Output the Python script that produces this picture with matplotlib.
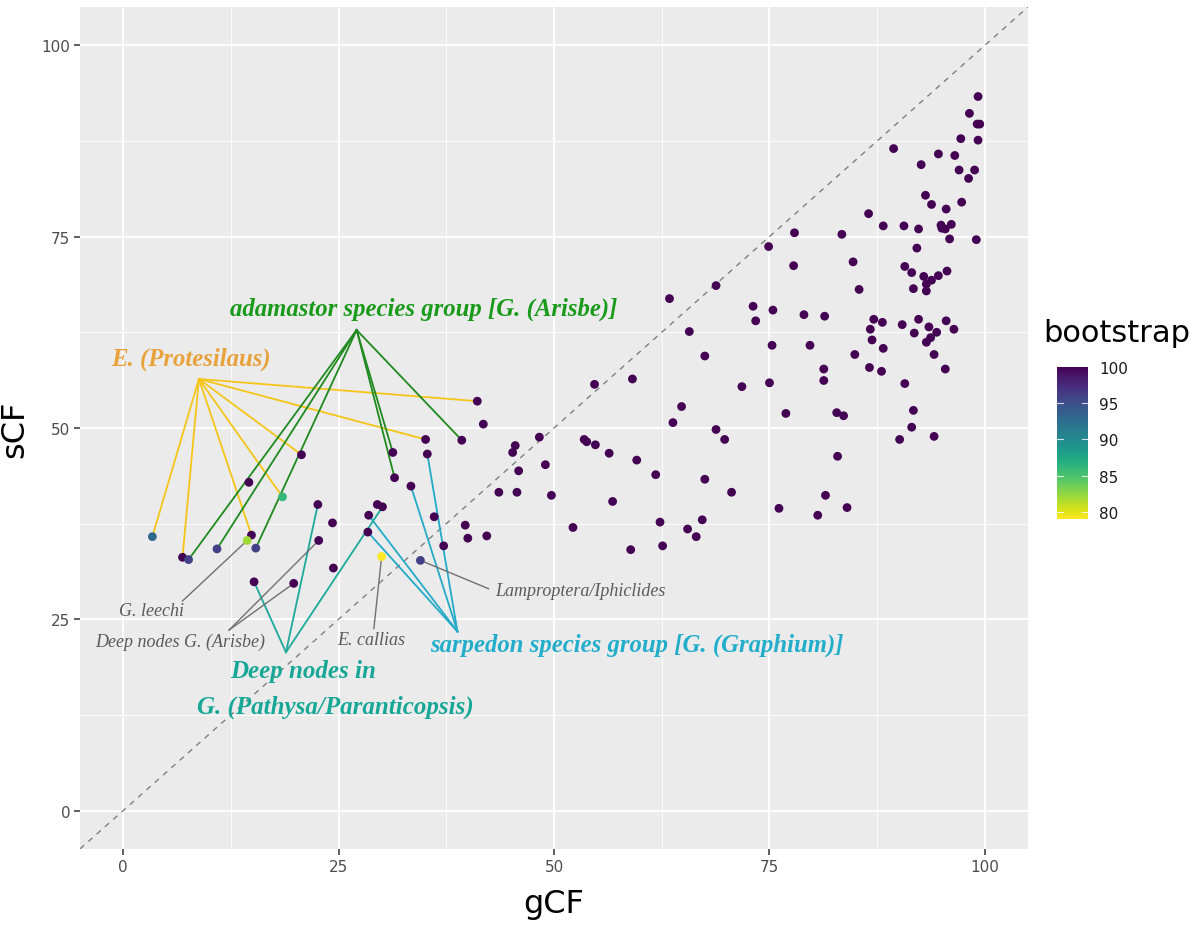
import numpy as np
import matplotlib
matplotlib.use("Agg")
import matplotlib.pyplot as plt
import matplotlib.transforms as mtransforms

# gCF / sCF / bootstrap per node
gcf = [3.4, 6.9, 7.6, 10.9, 14.6, 14.9, 14.4, 15.4, 18.5, 20.7, 22.6, 24.3, 22.7, 24.4,
       15.2, 19.8, 29.5, 30.1, 28.5, 28.4, 30.0, 31.3, 31.5, 33.4, 35.1, 35.3, 39.3, 41.1,
       41.8, 36.1, 37.2, 39.7, 40.0, 42.2, 34.5,
       63.4, 65.7, 59.1, 54.7, 64.8, 63.8, 48.3, 45.5, 45.2, 49.0, 45.9, 43.6, 45.7, 49.7,
       53.5, 53.8, 54.8, 56.4, 59.6, 61.8, 56.8, 52.2, 62.3, 65.5, 66.5, 58.9, 62.6,
       99.2, 98.2, 99.1, 99.4, 97.2, 99.2, 89.4, 94.6, 96.5, 92.6, 97.0, 98.8, 98.1, 93.1,
       97.3, 93.8, 95.5, 86.5, 88.2, 90.6, 92.3, 94.9, 95.0, 95.4, 96.1, 95.9, 99.0, 77.9,
       83.4, 74.9, 92.1, 77.8, 84.7, 90.7, 91.5, 92.9, 93.8, 94.6, 95.6, 93.2, 91.7, 93.2,
       85.4, 68.8, 73.1, 75.4, 73.4, 79.0, 81.4, 87.1, 88.1, 92.3, 95.5, 86.7, 90.4, 93.5,
       96.4, 91.8, 94.4, 93.7, 93.2, 86.9, 88.2, 75.3, 79.7, 84.9, 94.1, 67.5, 81.3, 81.3,
       86.6, 88.0, 95.4, 71.8, 75.0, 90.7, 76.9, 82.8, 83.6, 91.7, 91.5, 90.1, 94.1, 68.8,
       69.8, 82.9, 67.5, 70.6, 81.5, 76.1, 80.6, 84.0, 67.2]
scf = [35.8, 33.1, 32.8, 34.2, 42.9, 36.0, 35.3, 34.3, 41.0, 46.5, 40.0, 37.6, 35.3, 31.7,
       29.9, 29.7, 40.0, 39.7, 38.6, 36.4, 33.2, 46.8, 43.5, 42.4, 48.5, 46.6, 48.4, 53.5,
       50.5, 38.4, 34.6, 37.3, 35.6, 35.9, 32.7,
       66.9, 62.6, 56.4, 55.7, 52.8, 50.7, 48.8, 47.7, 46.8, 45.2, 44.4, 41.6, 41.6, 41.2,
       48.5, 48.2, 47.8, 46.7, 45.8, 43.9, 40.4, 37.0, 37.7, 36.8, 35.8, 34.1, 34.6,
       93.3, 91.1, 89.7, 89.7, 87.8, 87.6, 86.5, 85.8, 85.6, 84.4, 83.7, 83.7, 82.6, 80.4,
       79.5, 79.2, 78.6, 78.0, 76.4, 76.4, 76.0, 76.5, 76.1, 76.0, 76.6, 74.7, 74.6, 75.5,
       75.3, 73.7, 73.5, 71.2, 71.7, 71.1, 70.3, 69.8, 69.3, 69.9, 70.5, 68.8, 68.2, 67.9,
       68.1, 68.6, 65.9, 65.4, 64.0, 64.8, 64.6, 64.2, 63.8, 64.2, 64.0, 62.9, 63.5, 63.2,
       62.9, 62.4, 62.5, 61.8, 61.2, 61.5, 60.4, 60.8, 60.8, 59.6, 59.6, 59.4, 57.7, 56.2,
       57.9, 57.4, 57.7, 55.4, 55.9, 55.8, 51.9, 52.0, 51.6, 52.3, 50.1, 48.5, 48.9, 49.8,
       48.5, 46.3, 43.3, 41.6, 41.2, 39.5, 38.6, 39.6, 38.0]
boot = [93, 100, 96, 96, 100, 100, 82, 96, 86, 100, 100, 100, 100, 100,
        100, 100, 100, 100, 100, 100, 79, 100, 100, 100, 100, 100, 100, 100,
        100, 100, 100, 100, 100, 100, 96]
boot = boot + [100] * (len(gcf) - len(boot))

# clade labels: text, label position, hub of the connector lines, target nodes
group_names = ["E. (Protesilaus)", "adamastor species group [G. (Arisbe)]",
               "sarpedon species group [G. (Graphium)]"]
group_label_xy = [(7.9, 59.1), (34.9, 65.6), (59.6, 21.8)]
group_hub = [(8.8, 56.4), (27.1, 62.8), (38.8, 23.4)]
group_targets = [
    [(3.4, 35.8), (6.9, 33.1), (14.9, 36.0), (18.5, 41.0), (20.7, 46.5), (35.1, 48.5), (41.1, 53.5)],
    [(7.6, 32.8), (10.9, 34.2), (15.4, 34.3), (31.3, 46.8), (31.5, 43.5), (39.3, 48.4)],
    [(28.5, 38.6), (28.4, 36.4), (33.4, 42.4), (35.3, 46.6)],
]
group_text_col = ["#E9A23B", "#1A9A1A", "#22AECB"]
group_line_col = ["#F5C518", "#1F8A1F", "#22AAC6"]

pathysa_hub = (18.9, 20.7)
pathysa_targets = [(15.2, 29.9), (22.6, 40.0), (30.1, 39.7)]

# grey single-node notes: text, text position, line start, target nodes
note_names = ["G. leechi", "Deep nodes G. (Arisbe)", "E. callias", "Lamproptera/Iphiclides"]
note_xy = [(3.3, 26.2), (6.6, 22.1), (28.8, 22.3), (43.2, 28.8)]
note_start = [(6.9, 27.4), (12.3, 23.6), (29.1, 23.8), (42.4, 29.0)]
note_targets = [[(14.4, 35.3)], [(22.7, 35.3), (19.8, 29.7)], [(30.0, 33.2)], [(34.5, 32.7)]]

fig = plt.figure(figsize=(11.9, 9.28), dpi=100)
ax = fig.add_axes([0.0672, 0.0841, 0.7967, 0.9073])
ax.set_facecolor("#EBEBEB")
for s in ax.spines.values():
    s.set_visible(False)

ax.set_xlim(-5, 105)
ax.set_ylim(-5, 105)
ticks = [0, 25, 50, 75, 100]
ax.set_xticks(ticks)
ax.set_yticks(ticks)
ax.set_xticks([12.5, 37.5, 62.5, 87.5], minor=True)
ax.set_yticks([12.5, 37.5, 62.5, 87.5], minor=True)
ax.grid(which="major", color="white", lw=1.3)
ax.grid(which="minor", color="white", lw=0.6)
ax.set_axisbelow(True)
ax.tick_params(which="major", length=4, width=1.1, color="#333333",
               labelsize=11, labelcolor="#4D4D4D", pad=3)
ax.tick_params(which="minor", length=0)
ax.set_xlabel("gCF", fontsize=23, labelpad=10)
ax.set_ylabel("sCF", fontsize=23, labelpad=8)

ax.axline((0, 0), (1, 1), color="#7F7F7F", lw=1, ls=(0, (4, 4)), zorder=1)

serif = "Liberation Serif"

# connector lines
for hub, targets, lc in zip(group_hub, group_targets, group_line_col):
    for tx, ty in targets:
        ax.plot([hub[0], tx], [hub[1], ty], color=lc, lw=1.3, zorder=2)
for tx, ty in pathysa_targets:
    ax.plot([pathysa_hub[0], tx], [pathysa_hub[1], ty], color="#1DA99B", lw=1.3, zorder=2)
for st, targets in zip(note_start, note_targets):
    for tx, ty in targets:
        ax.plot([st[0], tx], [st[1], ty], color="#707070", lw=1.0, zorder=2)

sc = ax.scatter(gcf, scf, c=boot, cmap="viridis_r", vmin=79, vmax=100,
                s=40, linewidths=0, zorder=3)

# labels
for name, (lx, ly), tc in zip(group_names, group_label_xy, group_text_col):
    ax.text(lx, ly, name, color=tc, fontsize=17.8, family=serif, style="italic",
            weight="bold", ha="center", va="center", zorder=4)
ax.text(20.9, 18.3, "Deep nodes in", color="#17A797", fontsize=18, family=serif,
        style="italic", weight="bold", ha="center", va="center", zorder=4)
ax.text(24.6, 13.6, "G. (Pathysa/Paranticopsis)", color="#17A797", fontsize=18,
        family=serif, style="italic", weight="bold", ha="center", va="center", zorder=4)
for name, (nx, ny) in zip(note_names, note_xy):
    ha = "left" if name.startswith("Lamp") else "center"
    ax.text(nx, ny, name, color="#5A5A5A", fontsize=13, family=serif,
            style="italic", ha=ha, va="center", zorder=4)

# colour bar legend
cax = fig.add_axes([0.8882, 0.4397, 0.0261, 0.1638])
cb = fig.colorbar(sc, cax=cax, ticks=[80, 85, 90, 95, 100])
cb.outline.set_visible(False)
cax.tick_params(length=0, labelsize=11, labelcolor="#1A1A1A", pad=8)
trans = mtransforms.blended_transform_factory(cax.transAxes, cax.transData)
for t in [80, 85, 90, 95]:
    cax.plot([0, 0.2], [t, t], color="white", lw=0.8, transform=trans, alpha=0.8)
    cax.plot([0.8, 1], [t, t], color="white", lw=0.8, transform=trans, alpha=0.8)
fig.text(0.9385, 0.641, "bootstrap", fontsize=22, ha="center", va="center")

fig.savefig("out.png", dpi=100)
